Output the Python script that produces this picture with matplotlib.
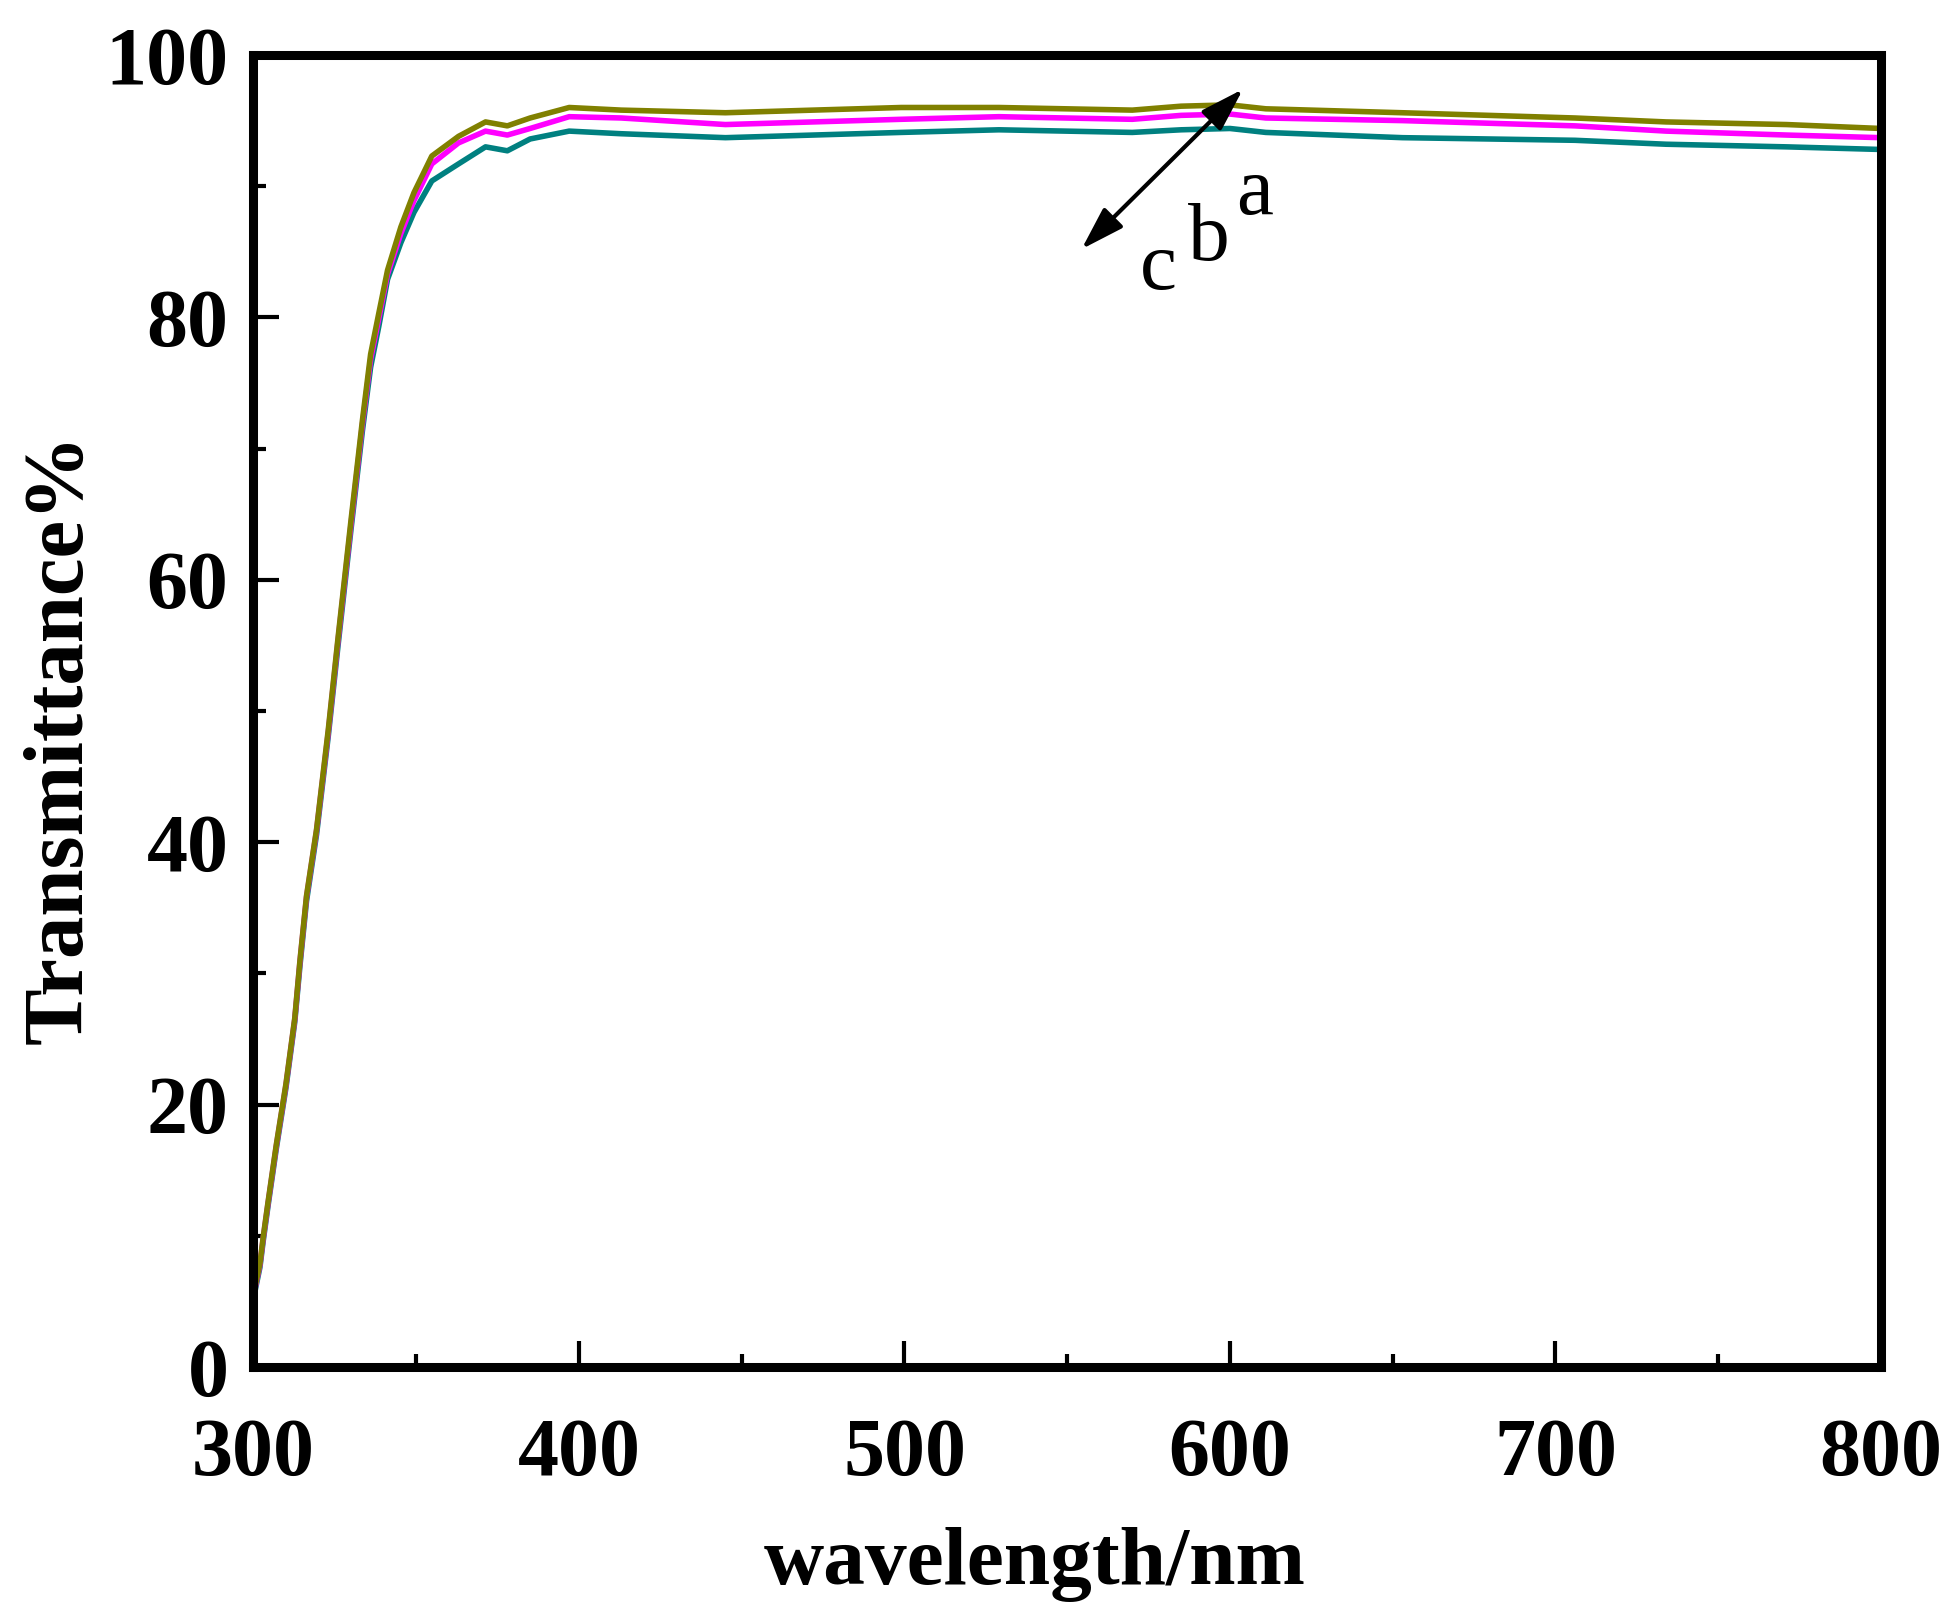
import matplotlib
matplotlib.use('Agg')
import matplotlib.pyplot as plt
from matplotlib.ticker import MultipleLocator

plt.rcParams['font.family'] = ['Liberation Serif', 'DejaVu Serif']

# wavelength points (nm)
wl = [300, 302, 303, 304.5, 307, 310, 312.7, 314.3, 316.3, 319.4, 323, 326, 330,
      333.5, 336, 338.5, 341.2, 345.3, 349.3, 354.8, 363, 371.3, 378, 385, 397,
      413, 445, 499, 529, 570, 585, 600, 611, 653, 706, 734, 771, 800]

# curve a (olive)
trans_a = [5.5, 7.9, 9.9, 12.6, 16.9, 21.6, 26.6, 31.0, 35.9, 41.0, 48.6, 55.6, 64.6,
           72.2, 77.2, 80.3, 83.6, 86.9, 89.5, 92.3, 93.8, 94.9, 94.6, 95.2, 96.0,
           95.8, 95.6, 96.0, 96.0, 95.8, 96.1, 96.2, 95.9, 95.6, 95.2, 94.9, 94.7, 94.4]
# curve b (magenta)
trans_b = [5.4, 7.8, 9.8, 12.5, 16.8, 21.5, 26.5, 30.9, 35.8, 40.9, 48.4, 55.4, 64.3,
           71.9, 76.8, 79.9, 83.3, 86.4, 88.9, 91.7, 93.3, 94.2, 93.9, 94.4, 95.3,
           95.2, 94.7, 95.1, 95.3, 95.1, 95.4, 95.5, 95.2, 95.0, 94.6, 94.2, 93.9, 93.7]
# curve c (teal)
trans_c = [5.2, 7.6, 9.6, 12.3, 16.6, 21.3, 26.3, 30.6, 35.5, 40.6, 48.1, 55.0, 63.9,
           71.4, 76.2, 79.3, 82.9, 85.7, 88.0, 90.4, 91.7, 93.0, 92.7, 93.6, 94.2,
           94.0, 93.7, 94.1, 94.3, 94.1, 94.3, 94.4, 94.1, 93.7, 93.5, 93.2, 93.0, 92.8]

fig = plt.figure(figsize=(19.48, 16.18), dpi=100)
ax = fig.add_axes([0.1301, 0.1551, 0.8355, 0.8109])

ax.plot(wl, trans_c, color='#008080', lw=4)
ax.plot(wl, trans_b, color='#FF00FF', lw=4)
ax.plot(wl, trans_a, color='#808000', lw=4)

ax.set_xlim(300, 800)
ax.set_ylim(0, 100)
ax.xaxis.set_major_locator(MultipleLocator(100))
ax.xaxis.set_minor_locator(MultipleLocator(50))
ax.yaxis.set_major_locator(MultipleLocator(20))
ax.yaxis.set_minor_locator(MultipleLocator(10))
ax.tick_params(which='both', direction='in', top=False, right=False, width=3)
ax.tick_params(which='major', length=19, labelsize=59)
ax.tick_params(which='minor', length=9.5)
ax.tick_params(axis='x', pad=37)
ax.tick_params(axis='y', pad=18)
for lab in ax.get_xticklabels() + ax.get_yticklabels():
    lab.set_fontweight('bold')
for sp in ax.spines.values():
    sp.set_linewidth(6.5)

ax.set_xlabel('wavelength/nm', fontsize=60, fontweight='bold', labelpad=24)
ax.set_ylabel('Transmittance%', fontsize=61, fontweight='bold', labelpad=4)
ax.xaxis.label.set_x(0.48)
ax.yaxis.label.set_y(0.479)

# double arrow and labels
ax.annotate('', xy=(604, 97.4), xytext=(554.4, 85.2),
            arrowprops=dict(arrowstyle='<|-|>,head_length=0.7,head_width=0.22',
                            color='black', lw=3, mutation_scale=38,
                            shrinkA=0, shrinkB=0))
ax.text(578, 82.2, 'c', fontsize=60, ha='center', va='baseline')
ax.text(593.4, 84.4, 'b', fontsize=60, ha='center', va='baseline')
ax.text(607.7, 87.9, 'a', fontsize=60, ha='center', va='baseline')

fig.savefig('out.png', dpi=100)
